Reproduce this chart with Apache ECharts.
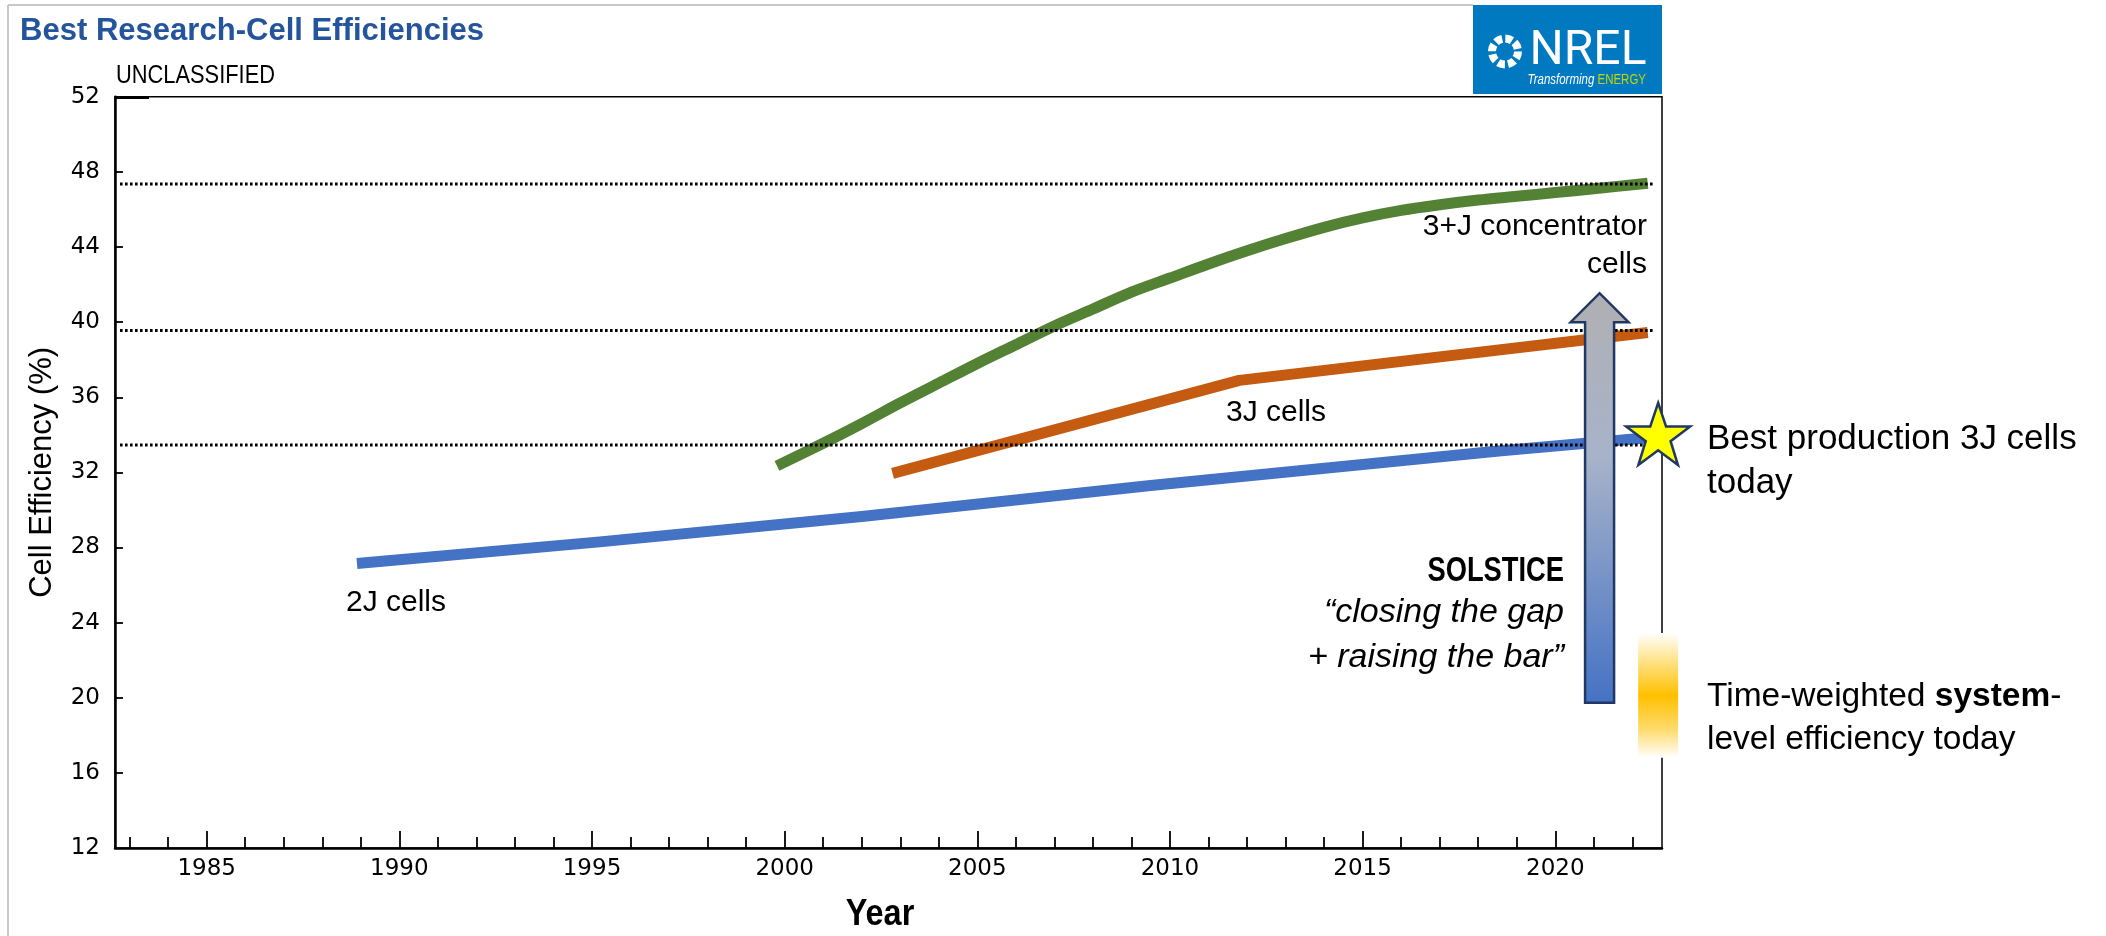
<!DOCTYPE html>
<html>
<head>
<meta charset="utf-8">
<title>Best Research-Cell Efficiencies</title>
<script src="https://cdn.jsdelivr.net/npm/echarts@6/dist/echarts.min.js"></script>
<style>
  html, body { margin: 0; padding: 0; background: #ffffff; }
  #chart { width: 2106px; height: 936px; }
</style>
</head>
<body>
<div id="chart"></div>
<script>
// --- Data -------------------------------------------------------------
// 2J cells (best research-cell efficiency, %)
const years2J = [1988.9, 1995.2, 2002.0, 2009.5, 2018.6, 2022.4];
const eff2J   = [27.15, 28.3, 29.65, 31.3, 33.15, 33.85];

// 3J cells
const years3J = [2002.8, 2011.8, 2022.4];
const eff3J   = [31.95, 36.9, 39.45];

// 3+J concentrator cells
const years3JConc = [1999.8, 2001, 2002, 2003, 2004, 2005, 2006, 2007, 2008, 2009, 2010,
                     2011, 2012, 2013, 2014, 2015, 2016, 2017, 2018, 2019, 2020, 2021, 2022.4];
const eff3JConc   = [32.35, 33.55, 34.6, 35.7, 36.75, 37.8, 38.8, 39.8, 40.7, 41.6, 42.35,
                     43.1, 43.8, 44.45, 45.05, 45.55, 45.95, 46.25, 46.5, 46.7, 46.9, 47.1, 47.4];

// Dotted reference levels (current best of each family) and their year span
const referenceLevels = [47.36, 39.55, 33.46];
const referenceSpan   = [1982.75, 2022.55];

// Best production 3J cells today: [year, efficiency]
const bestProduction = [2022.67, 34.05];
// Time-weighted system-level efficiency today: [year, low, high]
const systemBand = [2022.67, 16.8, 23.45];
// SOLSTICE target arrow: [year, from, to]
const solsticeArrow = [2021.15, 19.74, 41.54];

// Axis ticks and labels
const yTickValues   = [16, 20, 24, 28, 32, 36, 40, 44, 48];
const yLabelValues  = [12, 16, 20, 24, 28, 32, 36, 40, 44, 48, 52];
const xLabelYears   = [1985, 1990, 1995, 2000, 2005, 2010, 2015, 2020];
const xMinorYears   = [1983, 1984, 1986, 1987, 1988, 1989, 1991, 1992, 1993, 1994, 1996, 1997,
                       1998, 1999, 2001, 2002, 2003, 2004, 2006, 2007, 2008, 2009, 2011, 2012,
                       2013, 2014, 2016, 2017, 2018, 2019, 2021, 2022];
const xRange = [1982.62, 2022.77];
const yRange = [12, 52];

// --- Helpers ------------------------------------------------------------
const zip = (xs, ys) => xs.map((x, i) => [x, ys[i]]);
const SANS = "'Liberation Sans', Arial, sans-serif";
const TICKFONT = "'DejaVu Sans', sans-serif";

const chart = echarts.init(document.getElementById('chart'), null, { renderer: 'canvas' });

const thickLine = (name, data, color, smooth) => ({
  name, type: 'line', data, showSymbol: false, z: 2, smooth: smooth || false,
  lineStyle: { color, width: 11, cap: 'butt', join: 'round' },
  emphasis: { disabled: true }, silent: true
});

const refSeries = referenceLevels.map((v, i) => ({
  name: 'ref' + i, type: 'line', z: 3, showSymbol: false, silent: true,
  data: [[referenceSpan[0], v], [referenceSpan[1], v]],
  lineStyle: { color: '#000', width: 3, type: [2.6, 2.4] }
}));

const arrowFill = new echarts.graphic.LinearGradient(0, 0, 0, 1, [
  { offset: 0, color: '#B0B0B2' },
  { offset: 0.4, color: '#A7B3CA' },
  { offset: 1, color: '#4472C4' }
]);
const bandFill = new echarts.graphic.LinearGradient(0, 0, 0, 1, [
  { offset: 0, color: 'rgba(255,255,255,1)' },
  { offset: 0.22, color: '#FFE38A' },
  { offset: 0.5, color: '#FFC000' },
  { offset: 0.78, color: '#FFDC70' },
  { offset: 1, color: 'rgba(255,255,255,1)' }
]);

const text = (x, y, str, font, extra) => ({
  type: 'text', x, y, silent: true, ...(extra || {}),
  style: Object.assign({ text: str, fill: '#000', align: 'left', verticalAlign: 'middle' }, font)
});

const option = {
  backgroundColor: '#ffffff',
  animation: false,
  grid: {
    left: 115, right: 444, top: 96.8, bottom: 88,
    outerBoundsMode: 'none', containLabel: false,
    show: true, borderColor: '#000', borderWidth: 1.5, backgroundColor: 'transparent'
  },
  xAxis: [
    {
      type: 'value', min: xRange[0], max: xRange[1], position: 'bottom',
      axisLine: { show: true, onZero: false, lineStyle: { color: '#000', width: 2.5 } },
      axisTick: { show: true, inside: true, length: 17, customValues: xLabelYears,
                  lineStyle: { color: '#000', width: 1.8 } },
      axisLabel: { show: true, customValues: xLabelYears, margin: 10, color: '#000',
                   fontFamily: TICKFONT, fontSize: 23, formatter: v => String(v) },
      splitLine: { show: false }
    },
    {
      type: 'value', min: xRange[0], max: xRange[1], position: 'bottom',
      axisLine: { show: false },
      axisTick: { show: true, inside: true, length: 11, customValues: xMinorYears,
                  lineStyle: { color: '#000', width: 1.8 } },
      axisLabel: { show: false }, splitLine: { show: false }
    }
  ],
  yAxis: [
    {
      type: 'value', min: yRange[0], max: yRange[1], position: 'left',
      axisLine: { show: true, onZero: false, lineStyle: { color: '#000', width: 2.5 } },
      axisTick: { show: true, inside: true, length: 8, customValues: yTickValues,
                  lineStyle: { color: '#000', width: 1.8 } },
      axisLabel: { show: true, customValues: yLabelValues, margin: 15, color: '#000',
                   fontFamily: TICKFONT, fontSize: 23 },
      splitLine: { show: false },
      name: 'Cell Efficiency (%)', nameLocation: 'middle', nameGap: 57, nameRotate: 90,
      nameTextStyle: { fontFamily: SANS, fontSize: 31, color: '#000' }
    },
    {
      type: 'value', min: yRange[0], max: yRange[1], position: 'left',
      axisLine: { show: false },
      axisTick: { show: true, inside: true, length: 34, customValues: [52],
                  lineStyle: { color: '#000', width: 3 } },
      axisLabel: { show: false }, splitLine: { show: false }
    }
  ],
  series: [
    thickLine('2J cells', zip(years2J, eff2J), '#4472C4'),
    thickLine('3J cells', zip(years3J, eff3J), '#C55A11'),
    thickLine('3+J concentrator cells', zip(years3JConc, eff3JConc), '#548235', 0.3),
    ...refSeries,
    {
      name: 'SOLSTICE', type: 'custom', z: 4, clip: false, silent: true,
      data: [solsticeArrow],
      renderItem: (params, api) => {
        const bottom = api.coord([api.value(0), api.value(1)]);
        const tip = api.coord([api.value(0), api.value(2)]);
        const cx = bottom[0], sw = 14.5, hw = 29, hh = 29;
        return {
          type: 'polygon',
          shape: { points: [
            [cx - sw, bottom[1]], [cx - sw, tip[1] + hh], [cx - hw, tip[1] + hh], [cx, tip[1]],
            [cx + hw, tip[1] + hh], [cx + sw, tip[1] + hh], [cx + sw, bottom[1]]
          ] },
          style: { fill: arrowFill, stroke: '#1F3864', lineWidth: 2.5, lineJoin: 'miter' }
        };
      }
    },
    {
      name: 'System-level efficiency', type: 'custom', z: 5, clip: false, silent: true,
      data: [systemBand],
      renderItem: (params, api) => {
        const lo = api.coord([api.value(0), api.value(1)]);
        const hi = api.coord([api.value(0), api.value(2)]);
        const w = 40;
        return {
          type: 'rect',
          shape: { x: lo[0] - w / 2, y: hi[1], width: w, height: lo[1] - hi[1] },
          style: { fill: bandFill }
        };
      }
    },
    {
      name: 'Best production 3J cells', type: 'scatter', z: 6, clip: false, silent: true,
      data: [bestProduction],
      symbol: 'path://M50,0 L61.8,34.5 L97.6,34.5 L68.5,55.9 L79.4,90.5 L50,69.1 L20.6,90.5 L31.5,55.9 L2.4,34.5 L38.2,34.5 Z',
      symbolSize: [64, 62],
      itemStyle: { color: '#FFFF00', borderColor: '#1F3864', borderWidth: 2.5, opacity: 1 }
    }
  ],
  graphic: [
    // slide frame
    { type: 'line', shape: { x1: 8, y1: 5, x2: 8, y2: 936 }, style: { stroke: '#C8C8C8', lineWidth: 2 }, silent: true },
    { type: 'line', shape: { x1: 8, y1: 5, x2: 1473, y2: 5 }, style: { stroke: '#C8C8C8', lineWidth: 2 }, silent: true },
    // title and marking
    text(20, 31.5, 'Best Research-Cell Efficiencies',
         { fontFamily: SANS, fontWeight: 'bold', fontSize: 32, fill: '#24549C' }, { scaleX: 0.97 }),
    text(116, 76, 'UNCLASSIFIED', { fontFamily: SANS, fontSize: 26 }, { scaleX: 0.84 }),
    // x-axis title
    text(880, 915, 'Year', { fontFamily: SANS, fontWeight: 'bold', fontSize: 36, align: 'center' }, { scaleX: 0.9 }),
    // NREL logo
    { type: 'rect', shape: { x: 1473, y: 5, width: 189, height: 89 }, style: { fill: '#0079C1' }, silent: true },
    { type: 'circle', shape: { cx: 1505, cy: 51.5, r: 13 },
      style: { fill: 'none', stroke: '#ffffff', lineWidth: 8, lineDash: [7, 3.2] }, silent: true },
    text(1588, 52, 'NREL', { fontFamily: 'Roboto, sans-serif', fontSize: 48, fill: '#ffffff', align: 'center' }),
    { type: 'text', x: 1646, y: 80, silent: true, scaleX: 0.82,
      style: { text: '{t|Transforming }{e|ENERGY}', align: 'right', verticalAlign: 'middle',
               rich: {
                 t: { fontFamily: SANS, fontStyle: 'italic', fontSize: 14, fill: '#ffffff' },
                 e: { fontFamily: SANS, fontSize: 14, fill: '#C4D600' }
               } } },
    // series annotations
    text(346, 602.5, '2J cells', { fontFamily: SANS, fontSize: 30 }),
    text(1226, 413, '3J cells', { fontFamily: SANS, fontSize: 30 }),
    text(1647, 227, '3+J concentrator', { fontFamily: SANS, fontSize: 30, align: 'right' }),
    text(1647, 265, 'cells', { fontFamily: SANS, fontSize: 30, align: 'right' }),
    // SOLSTICE callout
    text(1564, 571, 'SOLSTICE', { fontFamily: SANS, fontWeight: 'bold', fontSize: 35, align: 'right' }, { scaleX: 0.78 }),
    text(1564, 613, '\u201Cclosing the gap', { fontFamily: SANS, fontStyle: 'italic', fontSize: 34, align: 'right' }),
    text(1564, 658, '+ raising the bar\u201D', { fontFamily: SANS, fontStyle: 'italic', fontSize: 34, align: 'right' }),
    // right-hand notes
    text(1707, 439, 'Best production 3J cells', { fontFamily: SANS, fontSize: 35 }),
    text(1707, 483, 'today', { fontFamily: SANS, fontSize: 35 }),
    { type: 'text', x: 1707, y: 697, silent: true,
      style: { text: '{a|Time-weighted }{b|system}{a|-}', align: 'left', verticalAlign: 'middle',
               rich: {
                 a: { fontFamily: SANS, fontSize: 33.5, fill: '#000' },
                 b: { fontFamily: SANS, fontSize: 33.5, fontWeight: 'bold', fill: '#000' }
               } } },
    text(1707, 740, 'level efficiency today', { fontFamily: SANS, fontSize: 33.5 })
  ]
};

chart.setOption(option);
</script>
</body>
</html>
